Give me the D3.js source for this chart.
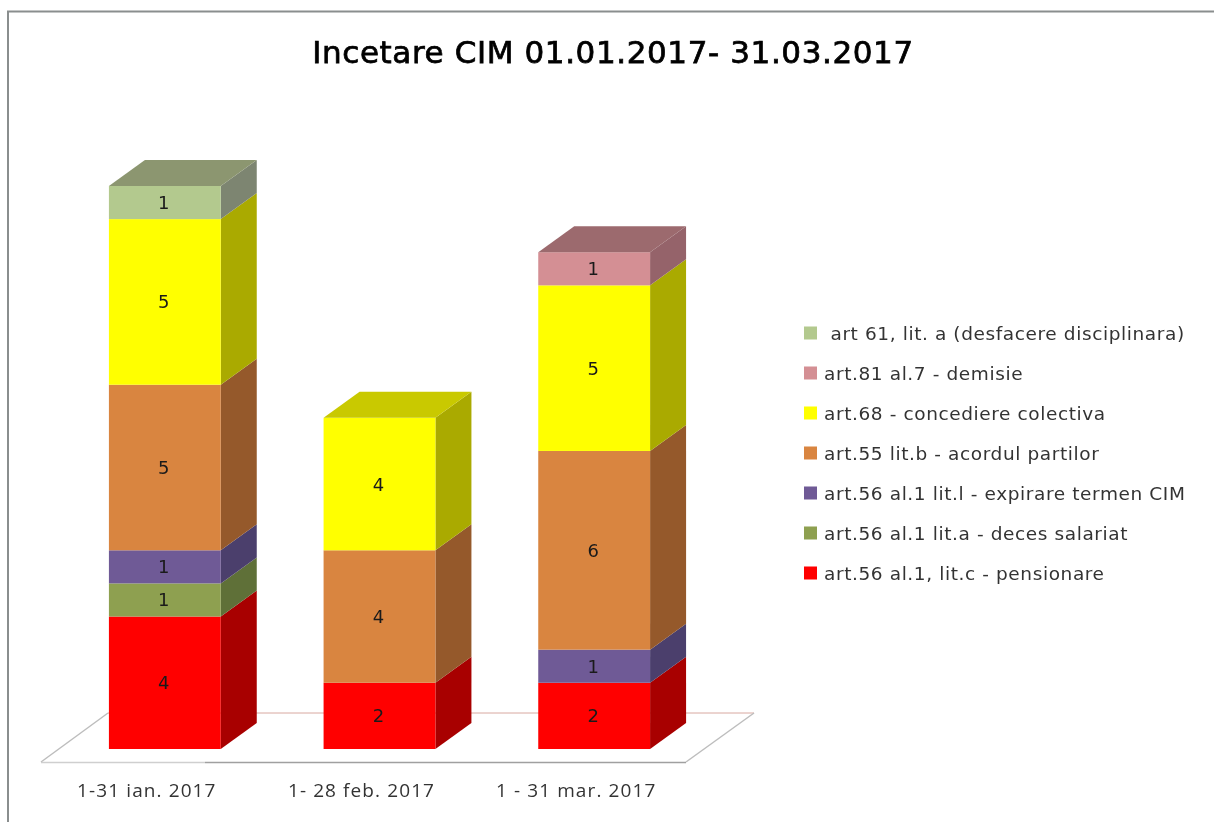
<!DOCTYPE html>
<html><head><meta charset="utf-8">
<script src="https://cdn.jsdelivr.net/npm/d3@7/dist/d3.min.js"></script>
<style>html,body{margin:0;background:#fff}svg{display:block;filter:blur(0.55px)}text{font-family:"DejaVu Sans",sans-serif;fill:#1a1a1a}</style>
</head><body><svg id="c" width="1214" height="822"></svg>
<script>
const titleText = "Incetare CIM 01.01.2017- 31.03.2017";
const categories = ["1-31 ian. 2017", "1- 28 feb. 2017", "1 - 31 mar. 2017"];
const seriesNames = ["art.56 al.1, lit.c - pensionare","art.56 al.1 lit.a - deces salariat","art.56 al.1 lit.l - expirare termen CIM","art.55 lit.b - acordul partilor","art.68 - concediere colectiva","art.81 al.7 - demisie"," art 61, lit. a (desfacere disciplinara)"];
const seriesColors = ["#ff0000","#8ea050","#6f5a96","#d98540","#ffff00","#d48f94","#b3c98e"];
const sideColors = ["#a80000","#5f7038","#4b3f6c","#95592b","#aaaa00","#95636a","#7d8571"];
const topColors = ["#a80000","#5f7038","#4b3f6c","#95592b","#c9c900","#9c6a6e","#8c9670"];
const janValues = [4,1,1,5,5,0,1];
const febValues = [2,0,0,4,4,0,0];
const marValues = [2,0,1,6,5,1,0];
const allValues = [janValues,febValues,marValues];

const svg = d3.select("#c");
const x = d3.scaleBand().domain(categories).range([57.5,701.5]).paddingInner(.479).paddingOuter(.2395);
const y = d3.scaleLinear().domain([0,17]).range([749,186]);
const dx = 36, dy = -26;

// frame
svg.append("path").attr("d","M8,822V11.5H1214").attr("fill","none").attr("stroke","#8a8e8e").attr("stroke-width",2);

svg.append("text").attr("x",613).attr("y",63).attr("text-anchor","middle")
  .attr("font-size",31).attr("letter-spacing",.6).attr("stroke","#000").attr("stroke-width",.75).style("fill","#000").text(titleText);

// floor
svg.append("path").attr("d","M41,762L108,713").attr("stroke","#bdbdbd").attr("stroke-width",1.5).attr("fill","none");
svg.append("path").attr("d","M108,713H754").attr("stroke","#d8a8a0").attr("stroke-width",1).attr("fill","none");
svg.append("path").attr("d","M686,762L754,713").attr("stroke","#bdbdbd").attr("stroke-width",1.5).attr("fill","none");
svg.append("path").attr("d","M41,762.5H205").attr("stroke","#cfcfcf").attr("stroke-width",1.5).attr("fill","none");
svg.append("path").attr("d","M205,762.5H686").attr("stroke","#a0a0a0").attr("stroke-width",1.5).attr("fill","none");

// stacks
const stack = d3.stack().keys(d3.range(seriesNames.length)).value((d,k)=>d[k])(allValues);
const g = svg.append("g");
categories.forEach((c,ci)=>{
  const x0 = x(c), x1 = x0 + x.bandwidth();
  stack.forEach((layer,si)=>{
    const [a,b] = layer[ci];
    if (b===a) return;
    const y0 = y(a), y1 = y(b);
    g.append("path").attr("fill",sideColors[si])
      .attr("d",`M${x1},${y0}L${x1+dx},${y0+dy}L${x1+dx},${y1+dy}L${x1},${y1}Z`);
    g.append("rect").attr("x",x0).attr("y",y1).attr("width",x1-x0).attr("height",y0-y1).attr("fill",seriesColors[si]);
    g.append("text").attr("x",(x0+x1)/2-1).attr("y",(y0+y1)/2+6.5).attr("text-anchor","middle")
      .attr("font-size",18).text(b-a);
    const isTop = !stack.slice(si+1).some(l=>l[ci][1]>l[ci][0]);
    if (isTop) g.append("path").attr("fill",topColors[si])
      .attr("d",`M${x0},${y1}L${x0+dx},${y1+dy}L${x1+dx},${y1+dy}L${x1},${y1}Z`);
  });
});

// category axis
const axis = svg.append("g").attr("transform","translate(-18,781)")
  .call(d3.axisBottom(x).tickSize(0).tickPadding(2));
axis.select(".domain").remove();
axis.selectAll("text").attr("font-size",19).attr("letter-spacing",1.1).style("font-family","'Open Sans',sans-serif").style("fill","#333").attr("dy",".71em");

// legend
const legendY = d3.scalePoint().domain(d3.range(seriesNames.length)).range([573,333]);
const lg = svg.append("g").selectAll("g").data(seriesNames).join("g")
  .attr("transform",(d,i)=>`translate(804,${legendY(i)})`);
lg.append("rect").attr("x",0).attr("y",-6.5).attr("width",13).attr("height",13).attr("fill",(d,i)=>seriesColors[i]);
lg.append("text").attr("x",20).attr("y",6.5).attr("font-size",18.5).attr("letter-spacing",.6).attr("xml:space","preserve").style("white-space","pre").style("fill","#333").text(d=>d);
</script></body></html>
